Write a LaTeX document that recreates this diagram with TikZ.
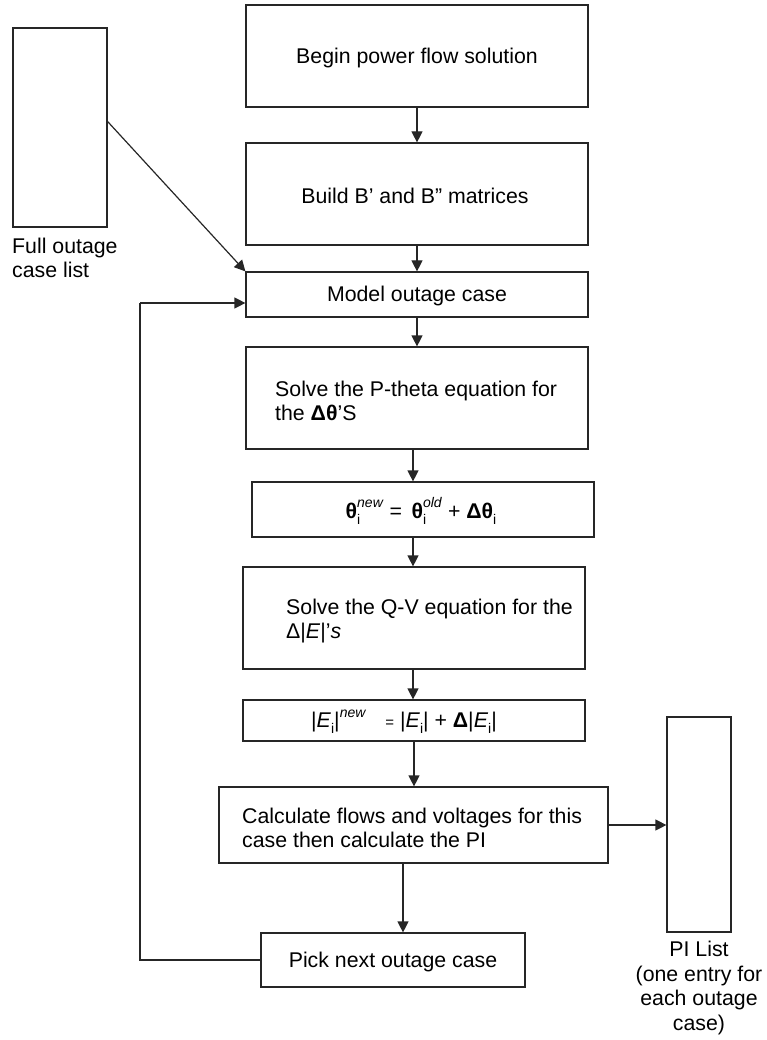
\documentclass[tikz,border=0pt]{standalone}
\usepackage{fontspec}
\setmainfont{Liberation Sans}
\usetikzlibrary{arrows.meta}
\newcommand\ssb[2]{\makebox[0pt][l]{\raisebox{-0.28em}{\fontsize{14}{14}\selectfont #1}}\raisebox{0.48em}{\fontsize{14}{14}\selectfont #2}}
\newcommand\sbx[1]{\raisebox{-0.28em}{\fontsize{14}{14}\selectfont #1}}
\newcommand\spx[1]{\raisebox{0.48em}{\fontsize{14}{14}\selectfont #1}}
\definecolor{linec}{gray}{0.15}
\begin{document}
\begin{tikzpicture}[x=1pt,y=-1pt,
  box/.style={draw=linec, line width=1.2pt, inner sep=0pt, fill=white},
  txt/.style={font=\fontsize{21.3}{24.5}\selectfont, inner sep=0pt, align=left},
  ctxt/.style={font=\fontsize{21.3}{24.5}\selectfont, inner sep=0pt, align=center},
  arr/.style={draw=linec, line width=1.2pt, -{Triangle[length=11pt,width=11pt]}},
  ln/.style={draw=linec, line width=1.2pt}]
\useasboundingbox (0,0) rectangle (766,1040);
% boxes
\node[box, minimum width=94pt, minimum height=199pt] (full) at (60,127.5) {};
\node[box, minimum width=342pt, minimum height=102pt] (b1) at (417,56) {};
\node[box, minimum width=342pt, minimum height=102pt] (b2) at (417,194) {};
\node[box, minimum width=342pt, minimum height=45pt] (b3) at (417,294.5) {};
\node[box, minimum width=342pt, minimum height=102pt] (b4) at (417,398) {};
\node[box, minimum width=342pt, minimum height=55pt] (b5) at (423,509.5) {};
\node[box, minimum width=342pt, minimum height=102pt] (b6) at (414,618) {};
\node[box, minimum width=342pt, minimum height=41pt] (b7) at (414,720.5) {};
\node[box, minimum width=389pt, minimum height=76pt] (b8) at (413.5,825) {};
\node[box, minimum width=264pt, minimum height=54pt] (b9) at (393,960) {};
\node[box, minimum width=64pt, minimum height=215pt] (pi) at (699,824.5) {};
% texts
\node[ctxt] (t1) at (417,58) {Begin power flow solution};
\node[ctxt] (t2) at (415,196) {Build B’ and B” matrices};
\node[ctxt] (t3) at (417,296) {Model outage case};
\node[txt, anchor=west] (t4) at (275,401) {Solve the P-theta equation for\\the \textbf{Δθ}’S};
\node[ctxt] (t5) at (421,511) {\textbf{θ}\ssb{i}{\textit{new}} =\hspace{0.45em}\textbf{θ}\ssb{i}{\textit{old}} + \textbf{Δθ}\sbx{i}};
\node[txt, anchor=west] (t6) at (286,621) {Solve the Q-V equation for the\\Δ|\textit{E}|’\textit{s}};
\node[ctxt] (t7) at (404,722) {|\textit{E}\sbx{i}|\spx{\textit{new}}\hspace{0.9em}{\fontsize{15}{15}\selectfont =} |\textit{E}\sbx{i}| + \textbf{Δ}|\textit{E}\sbx{i}|};
\node[txt, anchor=west] (t8) at (242,828) {Calculate flows and voltages for this\\case then calculate the PI};
\node[ctxt] (t9) at (393,962) {Pick next outage case};
\node[txt, anchor=west] (lfull) at (12,258) {Full outage\\case list};
\node[ctxt] (lpi) at (699,988) {PI List\\(one entry for\\each outage\\case)};
% connectors
\draw[arr] (b1.south) -- (b2.north);
\draw[arr] (b2.south) -- (b3.north);
\draw[arr] (b3.south) -- (b4.north);
\draw[arr] ([xshift=-4pt]b4.south) -- ([xshift=-4pt]b4.south |- b5.north);
\draw[arr] ([xshift=-1pt]b5.south -| b6.north) -- ([xshift=-1pt]b6.north);
\draw[arr] ([xshift=-1pt]b6.south) -- ([xshift=-1pt]b7.north);
\draw[arr] (b7.south) -- (b7.south |- b8.north);
\draw[arr] ([xshift=-10.5pt]b8.south) -- ([xshift=-10.5pt]b8.south |- b9.north);
\draw[arr] (b8.east) -- (b8.east -| pi.west);
\draw[arr] ([yshift=6pt]full.east) -- (b3.north west);
\coordinate (fb) at (140,303);
\draw[ln] (b9.west) -| (fb);
\draw[arr] (fb) -- (fb -| b3.west);
\end{tikzpicture}
\end{document}
